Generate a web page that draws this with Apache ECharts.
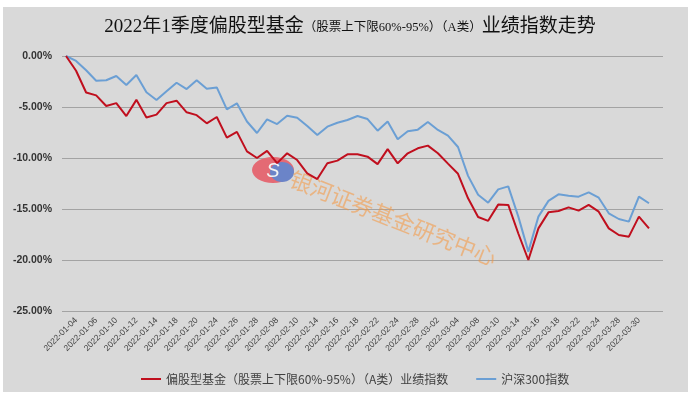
<!DOCTYPE html>
<html>
<head>
<meta charset="utf-8">
<script src="https://cdn.jsdelivr.net/npm/echarts@6/dist/echarts.min.js"></script>
<style>
html,body{margin:0;padding:0;background:#ffffff;}
#chart{width:700px;height:404px;}
</style>
</head>
<body>
<div id="chart"></div>
<script>
var titleMain1 = '2022年1季度偏股型基金';
var titleSub = '（股票上下限60%-95%）（A类）';
var titleMain2 = '业绩指数走势';

var dates = [
  '2021-12-31',
  '2022-01-04','2022-01-05','2022-01-06','2022-01-07','2022-01-10','2022-01-11','2022-01-12','2022-01-13','2022-01-14',
  '2022-01-17','2022-01-18','2022-01-19','2022-01-20','2022-01-21','2022-01-24','2022-01-25','2022-01-26','2022-01-27','2022-01-28',
  '2022-02-07','2022-02-08','2022-02-09','2022-02-10','2022-02-11','2022-02-14','2022-02-15','2022-02-16','2022-02-17','2022-02-18',
  '2022-02-21','2022-02-22','2022-02-23','2022-02-24','2022-02-25','2022-02-28',
  '2022-03-01','2022-03-02','2022-03-03','2022-03-04','2022-03-07','2022-03-08','2022-03-09','2022-03-10','2022-03-11',
  '2022-03-14','2022-03-15','2022-03-16','2022-03-17','2022-03-18','2022-03-21','2022-03-22','2022-03-23','2022-03-24','2022-03-25',
  '2022-03-28','2022-03-29','2022-03-30','2022-03-31'
];

var seriesNames = ['偏股型基金（股票上下限60%-95%）（A类）业绩指数', '沪深300指数'];

var fundIndex = [
  0, -1.45, -3.58, -3.86, -4.90, -4.62, -5.89, -4.30, -6.03, -5.75,
  -4.62, -4.38, -5.52, -5.80, -6.60, -5.98, -8.00, -7.44, -9.35, -10.00,
  -9.30, -10.50, -9.54, -10.20, -11.50, -12.06, -10.52, -10.26, -9.64, -9.64,
  -9.87, -10.60, -9.13, -10.52, -9.54, -9.05, -8.79, -9.54, -10.55, -11.55,
  -13.95, -15.78, -16.16, -14.57, -14.60, -17.40, -20.00, -16.90, -15.33, -15.20,
  -14.84, -15.16, -14.60, -15.26, -16.90, -17.55, -17.71, -15.75, -16.90
];

var hs300Index = [
  0, -0.48, -1.40, -2.42, -2.38, -1.96, -2.84, -1.86, -3.55, -4.31,
  -3.45, -2.62, -3.24, -2.37, -3.20, -3.08, -5.23, -4.64, -6.42, -7.55,
  -6.21, -6.67, -5.85, -6.05, -6.86, -7.75, -6.93, -6.54, -6.27, -5.88,
  -6.18, -7.32, -6.42, -8.17, -7.38, -7.22, -6.47, -7.25, -7.80, -8.92,
  -11.75, -13.60, -14.38, -13.08, -12.78, -15.75, -19.18, -15.75, -14.20, -13.56,
  -13.69, -13.79, -13.37, -13.89, -15.42, -15.98, -16.24, -13.79, -14.44
];

var yMin = -25, yMax = 0, yStep = 5;
var watermarkText = '银河证券基金研究中心';

var chart = echarts.init(document.getElementById('chart'), null, {renderer: 'canvas'});

var latin = '"Liberation Sans", "Noto Sans CJK SC", sans-serif';
var cjk = '"Noto Sans CJK SC", "Liberation Sans", sans-serif';
var serifCJK = '"Liberation Serif", "Noto Sans CJK SC", serif';

var option = {
  backgroundColor: 'transparent',
  animation: false,
  title: {
    left: 'center',
    top: 13,
    text: '{a|' + titleMain1 + '}{b|' + titleSub + '}{a|' + titleMain2 + '}',
    textStyle: {
      rich: {
        a: {fontSize: 19, fontFamily: serifCJK, color: '#111111', fontWeight: 'normal'},
        b: {fontSize: 12.5, fontFamily: serifCJK, color: '#111111', fontWeight: 'normal'}
      }
    }
  },
  legend: {
    left: 136,
    top: 368,
    itemGap: 28,
    itemWidth: 20,
    itemHeight: 2,
    icon: 'rect',
    textStyle: {fontSize: 12, color: '#404040', fontFamily: cjk},
    data: seriesNames
  },
  graphic: [
    {type: 'rect', z: -100, shape: {x: 3, y: 7, width: 685, height: 385}, style: {fill: '#d9d9d9'}},
    {type: 'ellipse', z: 1, shape: {cx: 273, cy: 170, rx: 21, ry: 13}, style: {fill: '#e46a74'}},
    {type: 'ellipse', z: 1, shape: {cx: 282, cy: 172, rx: 12, ry: 10}, style: {fill: '#6b84c8'}},
    {type: 'text', z: 1, x: 273, y: 171, style: {text: 'S', fontSize: 20, fontWeight: 'normal', fontStyle: 'italic', fontFamily: latin, fill: '#f2f2f2', align: 'center', verticalAlign: 'middle'}},
    {type: 'text', z: 1, x: 291, y: 178, rotation: -0.375, style: {text: watermarkText, fontSize: 22, fontFamily: cjk, fill: 'rgba(245,150,60,0.55)', verticalAlign: 'middle'}}
  ],
  grid: [
    {left: 62, top: 56, width: 601, height: 255},
    {left: 61, top: 56, width: 593, height: 255}
  ],
  xAxis: [
    {gridIndex: 0, type: 'value', min: 0, max: 1, show: false},
    {
      gridIndex: 1, type: 'category', data: dates, boundaryGap: true,
      axisLine: {show: false}, axisTick: {show: false},
      axisLabel: {
        interval: function (i) { return i % 2 === 1; },
        rotate: 45, fontSize: 8.5, color: '#404040', fontFamily: latin, margin: 8
      }
    }
  ],
  yAxis: [
    {
      gridIndex: 0, type: 'value', min: yMin, max: yMax, interval: yStep,
      axisLine: {show: false}, axisTick: {show: false},
      splitLine: {show: true, lineStyle: {color: '#a3a3a3', width: 1.2}},
      axisLabel: {
        formatter: function (v) { return v.toFixed(2) + '%'; },
        fontSize: 10.5, fontWeight: 'bold', color: '#333333', fontFamily: latin, margin: 10
      }
    },
    {gridIndex: 1, type: 'value', min: yMin, max: yMax, interval: yStep, show: false, splitLine: {show: false}}
  ],
  series: [
    {
      name: seriesNames[0], type: 'line', xAxisIndex: 1, yAxisIndex: 1, data: fundIndex,
      showSymbol: false, symbol: 'none', z: 3,
      lineStyle: {color: '#c00f1e', width: 2}, itemStyle: {color: '#c00f1e'}
    },
    {
      name: seriesNames[1], type: 'line', xAxisIndex: 1, yAxisIndex: 1, data: hs300Index,
      showSymbol: false, symbol: 'none', z: 2,
      lineStyle: {color: '#6b9fd4', width: 2}, itemStyle: {color: '#6b9fd4'}
    }
  ]
};
chart.setOption(option);
</script>
</body>
</html>
